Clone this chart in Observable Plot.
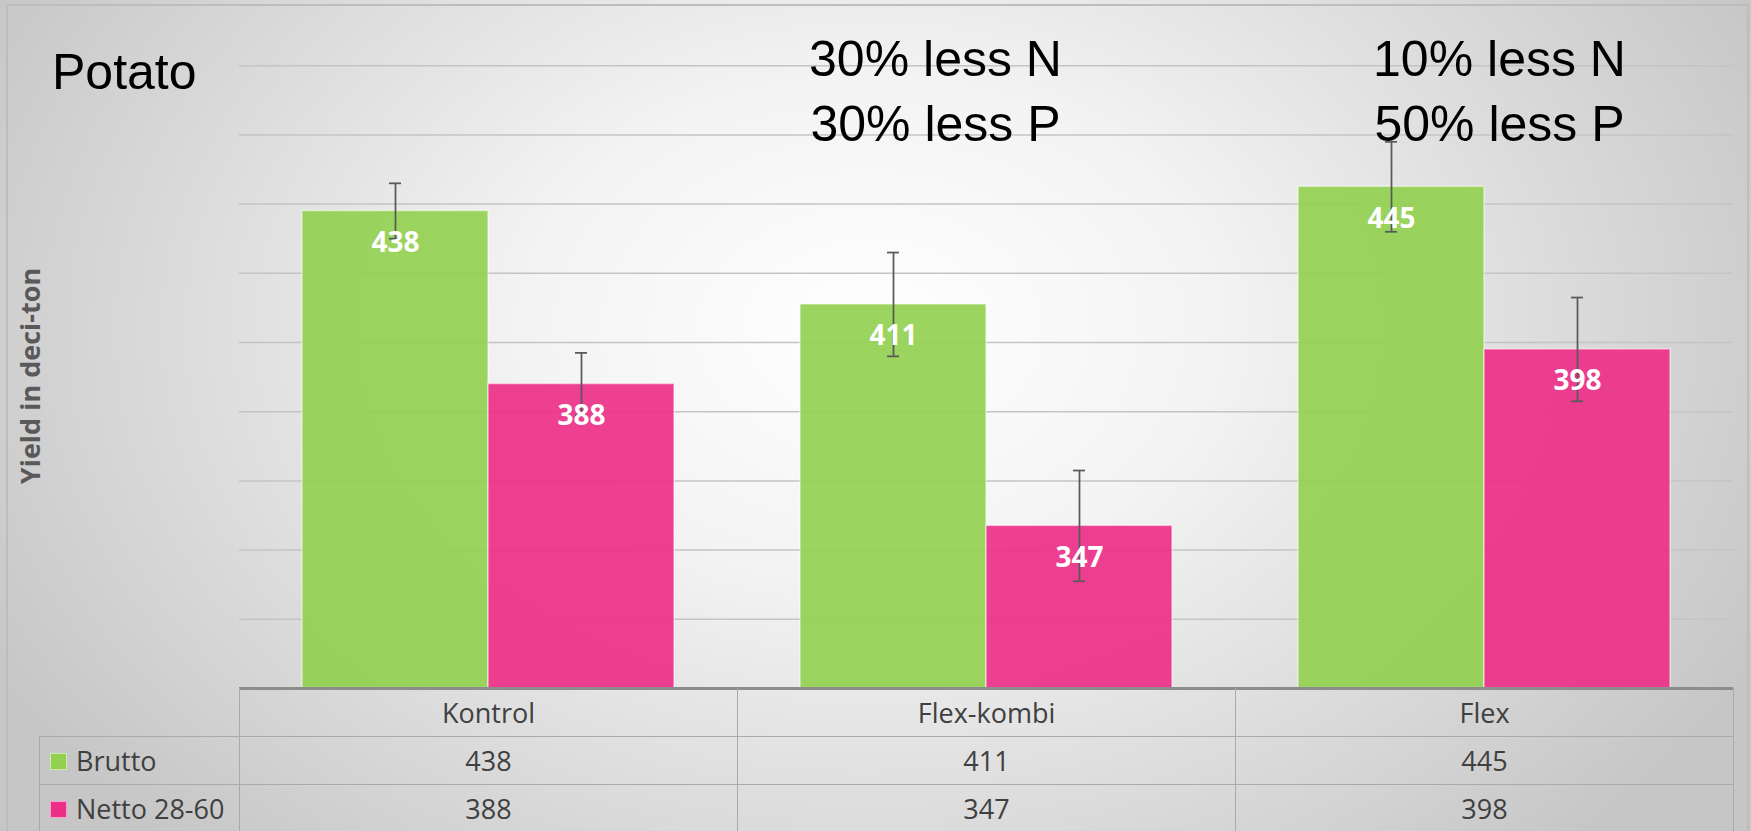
<!DOCTYPE html>
<html>
<head>
<meta charset="utf-8">
<script src="https://cdn.jsdelivr.net/npm/d3@7"></script>
<script src="https://cdn.jsdelivr.net/npm/@observablehq/plot@0.6"></script>
<style>
  html, body { margin: 0; padding: 0; }
  body {
    width: 1751px; height: 831px; overflow: hidden; position: relative;
    font-family: "Open Sans", sans-serif;
    background: radial-gradient(ellipse 1000px 720px at 870px 330px, #ffffff 0%, #f3f3f3 35%, #c6c6c6 100%);
  }
  #frame { position: absolute; left: 6px; top: 4px; width: 1743px; height: 860px;
    border: 2px solid #bdbdbd; box-sizing: border-box; }
  #title { position: absolute; left: 52px; top: 47px; font: 50px/50px "Liberation Sans", Arial, sans-serif; color: #000; }
  #ylabel { position: absolute; left: 0; top: 0; transform-origin: 0 0;
    transform: translate(30px, 376px) rotate(-90deg) translate(-50%, -50%);
    font: bold 27px/1.2 "Open Sans", sans-serif; color: #595959; white-space: nowrap; }
  #chart { position: absolute; left: 0; top: -4px; }
  #tbl { position: absolute; left: 39px; top: 688px; border-collapse: collapse; table-layout: fixed;
    font: 27px "Open Sans", sans-serif; color: #404040; }
  #tbl td { border: 1.5px solid #aaaaaa; text-align: center; padding: 0; white-space: nowrap; }
  #tbl tr.hdr td { border-top: none; height: 48px; }
  #tbl tr.row td { height: 47px; }
  #tbl td.blank { border: none; }
  #tbl td.lab { text-align: left; }
  .sw { display: inline-block; width: 17px; height: 17px; box-sizing: border-box; vertical-align: middle;
    margin: -4px 9px 0 10px; border: 1.5px solid rgba(255,255,255,0.55); }
</style>
</head>
<body>
<div id="frame"></div>
<div id="chart"></div>
<div id="title">Potato</div>
<div id="ylabel">Yield in deci-ton</div>
<table id="tbl"></table>
<script>
// Potato yield per fertilisation strategy (deci-ton)
const categories = ["Kontrol", "Flex-kombi", "Flex"];
const series = ["Brutto", "Netto 28-60"];
const brutto = [438, 411, 445];
const netto = [388, 347, 398];
const bruttoErr = [8, 15, 13];
const nettoErr = [9, 16, 15];
const yTicks = [300, 320, 340, 360, 380, 400, 420, 440, 460, 480];
const yMax = 500;
const colors = ["#92d050", "#ec3088"];
const noteCategories = ["Flex-kombi", "Flex"];
const noteTexts = ["30% less N\n30% less P", "10% less N\n50% less P"];

const rows = categories.flatMap((c, i) => [
  {category: c, series: series[0], value: brutto[i], err: bruttoErr[i]},
  {category: c, series: series[1], value: netto[i], err: nettoErr[i]}
]);
const notes = noteCategories.map((c, i) => ({category: c, text: noteTexts[i]}));

const capStyle = {fx: "category", x: "series", stroke: "#595959", strokeWidth: 1.75, insetLeft: 87, insetRight: 87};
const noteStyle = {
  fx: "category", text: "text", frameAnchor: "top", lineAnchor: "top", textAnchor: "middle",
  dy: 33, lineHeight: 1.3, fontSize: 50, fontFamily: "Liberation Sans, Arial, sans-serif", fill: "#000"
};

const chart = Plot.plot({
  width: 1751, height: 694,
  marginLeft: 239, marginRight: 18, marginTop: 0, marginBottom: 2,
  style: {background: "transparent", overflow: "visible"},
  fx: {domain: categories, padding: 0, axis: null},
  x: {domain: series, paddingInner: 0, paddingOuter: 0.335, axis: null},
  y: {domain: [yTicks[0], yMax], axis: null},
  color: {domain: series, range: colors},
  marks: [
    Plot.ruleY(yTicks.slice(1), {stroke: "#c4c4c4", strokeWidth: 1.5}),
    Plot.barY(rows, {
      fx: "category", x: "series", y1: yTicks[0], y2: "value", fill: "series",
      fillOpacity: 0.92, stroke: "#ffffff", strokeOpacity: 0.5, strokeWidth: 1.5
    }),
    Plot.ruleX(rows, {
      fx: "category", x: "series", y1: d => d.value - d.err, y2: d => d.value + d.err,
      stroke: "#595959", strokeWidth: 1.75
    }),
    Plot.tickY(rows, {...capStyle, y: d => d.value + d.err}),
    Plot.tickY(rows, {...capStyle, y: d => d.value - d.err}),
    Plot.text(rows, {
      fx: "category", x: "series", y: "value", text: d => String(d.value), dy: 32,
      fill: "#ffffff", fontWeight: "bold", fontSize: 28, fontFamily: "Open Sans, sans-serif"
    }),
    Plot.ruleY([yTicks[0]], {stroke: "#8c8c8c", strokeWidth: 3}),
    Plot.text(notes.filter(d => d.category === noteCategories[0]), {...noteStyle, dx: -51}),
    Plot.text(notes.filter(d => d.category === noteCategories[1]), {...noteStyle, dx: 15})
  ]
});
document.getElementById("chart").appendChild(chart);

// Data table under the plot: header row of categories, one row per series
const tbl = d3.select("#tbl");
const cg = tbl.append("colgroup");
cg.append("col").style("width", "200px");
categories.forEach(() => cg.append("col").style("width", "498px"));
const hdr = tbl.append("tr").attr("class", "hdr");
hdr.append("td").attr("class", "blank");
categories.forEach(c => hdr.append("td").text(c));
[brutto, netto].forEach((vals, s) => {
  const tr = tbl.append("tr").attr("class", "row");
  const lab = tr.append("td").attr("class", "lab");
  lab.append("span").attr("class", "sw").style("background", colors[s]);
  lab.append("span").text(series[s]);
  vals.forEach(v => tr.append("td").text(v));
});
</script>
</body>
</html>
